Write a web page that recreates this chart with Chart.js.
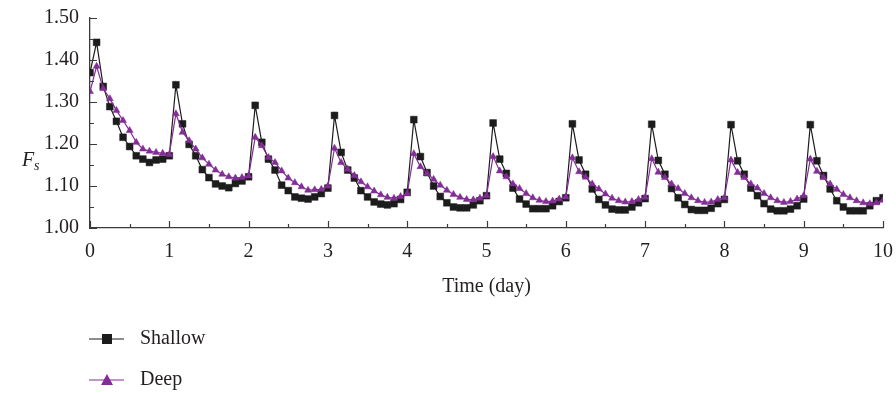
<!DOCTYPE html>
<html>
<head>
<meta charset="utf-8">
<title>Fs over time</title>
<script src="https://cdn.jsdelivr.net/npm/chart.js"></script>
<style>
  html, body { margin: 0; padding: 0; background: #fff; }
  #wrap { width: 896px; height: 393px; position: relative; }
</style>
</head>
<body>
<div id="wrap"><canvas id="fsChart"></canvas></div>
<script>
// one reading every 2 hours, 12 per day, days 0..10
const stepDays = 1 / 12;

const shallow = [
  1.370, 1.442, 1.337, 1.289, 1.254, 1.216, 1.194, 1.172, 1.164, 1.156, 1.162, 1.164,
  1.172, 1.341, 1.248, 1.199, 1.172, 1.139, 1.120, 1.105, 1.100, 1.096, 1.106, 1.112,
  1.122, 1.292, 1.204, 1.164, 1.138, 1.102, 1.089, 1.074, 1.071, 1.069, 1.074, 1.082,
  1.095, 1.268, 1.180, 1.138, 1.119, 1.089, 1.074, 1.062, 1.057, 1.055, 1.058, 1.068,
  1.085, 1.258, 1.170, 1.132, 1.100, 1.075, 1.060, 1.050, 1.048, 1.048, 1.055, 1.065,
  1.077, 1.250, 1.164, 1.130, 1.095, 1.069, 1.057, 1.046, 1.046, 1.046, 1.053, 1.063,
  1.072, 1.248, 1.162, 1.128, 1.093, 1.068, 1.055, 1.045, 1.043, 1.043, 1.050, 1.060,
  1.070, 1.247, 1.161, 1.128, 1.094, 1.072, 1.056, 1.044, 1.042, 1.042, 1.047, 1.058,
  1.068, 1.246, 1.160, 1.128, 1.095, 1.077, 1.058, 1.045, 1.041, 1.041, 1.045, 1.053,
  1.069, 1.246, 1.160, 1.125, 1.093, 1.065, 1.050, 1.041, 1.041, 1.041, 1.053, 1.065,
  1.072
];

const deep = [
  1.325, 1.385, 1.332, 1.308, 1.280, 1.256, 1.232, 1.204, 1.188, 1.183, 1.180, 1.178,
  1.175, 1.272, 1.228, 1.208, 1.188, 1.167, 1.152, 1.138, 1.128, 1.122, 1.119, 1.120,
  1.124, 1.216, 1.196, 1.168, 1.156, 1.136, 1.119, 1.108, 1.098, 1.090, 1.091, 1.092,
  1.100, 1.190, 1.156, 1.140, 1.125, 1.110, 1.098, 1.088, 1.079, 1.073, 1.071, 1.075,
  1.082, 1.177, 1.146, 1.130, 1.116, 1.102, 1.090, 1.080, 1.073, 1.068, 1.067, 1.071,
  1.077, 1.170, 1.136, 1.122, 1.105, 1.094, 1.082, 1.072, 1.066, 1.063, 1.064, 1.069,
  1.074, 1.167, 1.134, 1.121, 1.105, 1.093, 1.081, 1.071, 1.065, 1.062, 1.063, 1.068,
  1.073, 1.165, 1.133, 1.120, 1.105, 1.094, 1.082, 1.072, 1.065, 1.061, 1.062, 1.068,
  1.072, 1.162, 1.132, 1.120, 1.105, 1.095, 1.082, 1.072, 1.065, 1.061, 1.063, 1.069,
  1.077, 1.164, 1.135, 1.120, 1.105, 1.092, 1.080, 1.072, 1.065, 1.060, 1.058, 1.060,
  1.066
];

const seriesNames = ['Shallow', 'Deep'];
const xTicks = [0, 1, 2, 3, 4, 5, 6, 7, 8, 9, 10];
const yTicks = [1.00, 1.10, 1.20, 1.30, 1.40, 1.50];

const FONT = '"Liberation Serif", "DejaVu Serif", serif';
const TEXT = '#231f20';
const AXIS = '#3a3a3a';
const BLACK = '#1c1c1c';
const PURPLE = '#832d96';

const toPoints = arr => arr.map((v, i) => ({ x: i * stepDays, y: v }));

// axis ticks point inward, with minor ticks halfway
const innerTicks = {
  id: 'innerTicks',
  afterDraw(chart) {
    const { ctx, chartArea: a, scales: { x, y } } = chart;
    ctx.save();
    ctx.strokeStyle = AXIS;
    ctx.lineWidth = 1.2;
    ctx.beginPath();
    for (let d = 0; d <= 10; d += 0.5) {
      const px = Math.round(x.getPixelForValue(d)) + 0.5;
      const len = Number.isInteger(d) ? 7 : 4;
      ctx.moveTo(px, a.bottom);
      ctx.lineTo(px, a.bottom - len);
    }
    for (let k = 0; k <= 10; k++) {
      const v = 1 + k * 0.05;
      const py = Math.round(y.getPixelForValue(v)) + 0.5;
      const len = k % 2 === 0 ? 7 : 4;
      ctx.moveTo(a.left, py);
      ctx.lineTo(a.left + len, py);
    }
    ctx.stroke();
    ctx.restore();
  }
};

// F_s label, x title and the stacked legend under the plot
const labels = {
  id: 'labels',
  afterDraw(chart) {
    const { ctx, chartArea: a } = chart;
    ctx.save();
    ctx.fillStyle = TEXT;
    ctx.textBaseline = 'alphabetic';
    ctx.textAlign = 'left';
    ctx.font = 'italic 20px ' + FONT;
    ctx.fillText('F', 22, 166);
    ctx.font = 'italic 14px ' + FONT;
    ctx.fillText('s', 34, 170);

    ctx.font = '20px ' + FONT;
    ctx.textAlign = 'center';
    ctx.textBaseline = 'middle';
    ctx.fillText('Time (day)', (a.left + a.right) / 2, 287);

    const rows = [339, 380];
    chart.data.datasets.forEach((ds, i) => {
      const yy = rows[i];
      ctx.strokeStyle = ds.borderColor;
      ctx.lineWidth = 1.2;
      ctx.beginPath();
      ctx.moveTo(89, yy);
      ctx.lineTo(124, yy);
      ctx.stroke();
      ctx.fillStyle = ds.pointBackgroundColor;
      ctx.beginPath();
      if (ds.pointStyle === 'rect') {
        ctx.rect(102, yy - 5, 10, 10);
      } else {
        ctx.moveTo(107, yy - 6);
        ctx.lineTo(113, yy + 5);
        ctx.lineTo(101, yy + 5);
        ctx.closePath();
      }
      ctx.fill();
      ctx.fillStyle = TEXT;
      ctx.textAlign = 'left';
      ctx.fillText(ds.label, 140, yy);
    });
    ctx.restore();
  }
};

new Chart(document.getElementById('fsChart'), {
  type: 'line',
  data: {
    datasets: [
      {
        label: seriesNames[0],
        data: toPoints(shallow),
        borderColor: BLACK,
        borderWidth: 1.2,
        pointStyle: 'rect',
        pointRadius: 4.8,
        pointBackgroundColor: BLACK,
        pointBorderColor: BLACK,
        pointBorderWidth: 0.5,
        tension: 0,
        order: 2
      },
      {
        label: seriesNames[1],
        data: toPoints(deep),
        borderColor: PURPLE,
        borderWidth: 1.2,
        pointStyle: 'triangle',
        pointRadius: 4,
        pointBackgroundColor: PURPLE,
        pointBorderColor: PURPLE,
        pointBorderWidth: 0.5,
        tension: 0,
        order: 1
      }
    ]
  },
  options: {
    responsive: true,
    maintainAspectRatio: false,
    animation: false,
    devicePixelRatio: 1,
    layout: { padding: { top: 18, right: 13, left: 0, bottom: 0 } },
    plugins: {
      legend: { display: false },
      tooltip: { enabled: false }
    },
    scales: {
      x: {
        type: 'linear',
        min: 0,
        max: 10,
        afterFit(scale) {
          scale.height = 165;
          scale.paddingLeft = 0;
          scale.paddingRight = 0;
        },
        afterBuildTicks(scale) { scale.ticks = xTicks.map(v => ({ value: v })); },
        grid: { display: false, drawTicks: false },
        border: { display: true, color: AXIS, width: 1.3 },
        ticks: {
          padding: 12,
          color: TEXT,
          font: { family: FONT, size: 20 },
          maxRotation: 0
        }
      },
      y: {
        min: 1.0,
        max: 1.5,
        afterFit(scale) {
          scale.width = 90;
          scale.paddingTop = 0;
          scale.paddingBottom = 0;
        },
        afterBuildTicks(scale) { scale.ticks = yTicks.map(v => ({ value: v })); },
        grid: { display: false, drawTicks: false },
        border: { display: true, color: AXIS, width: 1.3 },
        ticks: {
          padding: 11,
          color: TEXT,
          font: { family: FONT, size: 20 },
          callback: v => v.toFixed(2)
        }
      }
    }
  },
  plugins: [innerTicks, labels]
});
</script>
</body>
</html>
